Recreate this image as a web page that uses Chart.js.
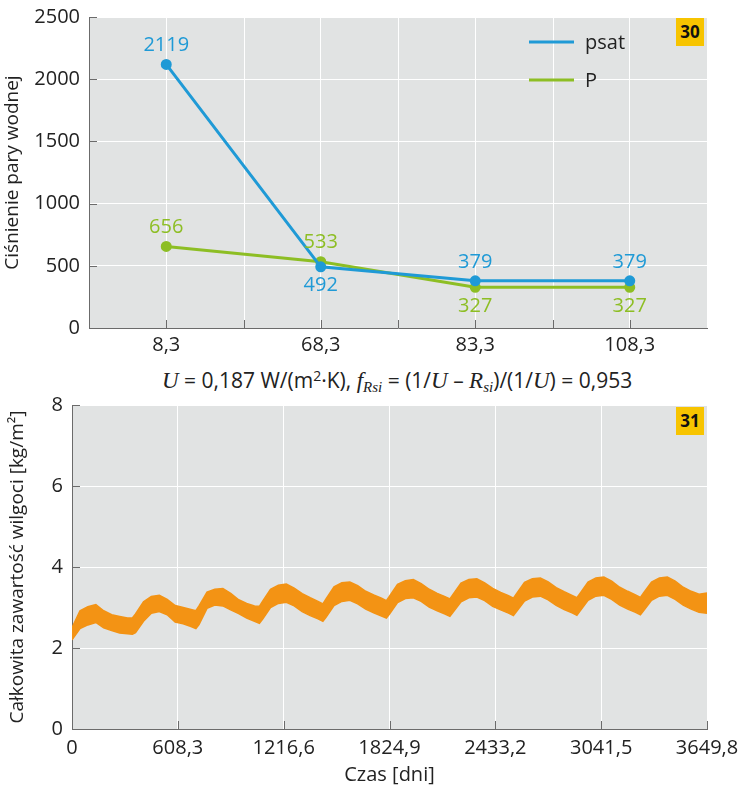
<!DOCTYPE html>
<html lang="pl">
<head>
  <meta charset="UTF-8" />
  <title>Ciśnienie pary wodnej i zawartość wilgoci</title>
  <script src="https://cdn.jsdelivr.net/npm/chart.js"></script>
  <style>
    body {
      margin: 0;
      background: #fff;
      font-family: "Open Sans", Arial, sans-serif;
      color: #222;
    }
    .page { position: relative; width: 748px; height: 800px; overflow: hidden; }
    .box { position: absolute; left: 0; width: 748px; }
    #topBox { top: 0; height: 365px; }
    #bottomBox { top: 395px; height: 405px; }
    .caption {
      position: absolute;
      top: 365px;
      left: 162px;
      white-space: nowrap;
      font-size: 21px;
      line-height: 30px;
    }
    .caption i { font-family: "Liberation Serif", serif; font-size: 23px; }
    .caption sub { font-size: 15px; vertical-align: -4px; line-height: 0; }
    .caption sup { font-size: 14px; vertical-align: 7px; line-height: 0; }
    .tag {
      position: absolute;
      left: 676px;
      width: 28px;
      height: 28px;
      background: #f7c400;
      color: #111;
      font-weight: bold;
      font-size: 17px;
      line-height: 28px;
      text-align: center;
    }
  </style>
</head>
<body>
<div class="page">
  <div class="box" id="topBox"><canvas id="pressureChart" width="748" height="365"></canvas></div>
  <div class="tag" style="top:18px;">30</div>
  <div class="caption">
    <i>U</i> = 0,187 W/(m<sup>2</sup>·K), <i>f<sub>Rsi</sub></i> = (1/<i>U</i> – <i>R<sub>si</sub></i>)/(1/<i>U</i>) = 0,953
  </div>
  <div class="box" id="bottomBox"><canvas id="moistureChart" width="748" height="405"></canvas></div>
  <div class="tag" style="top:407px;">31</div>
</div>

<script>
  // --- chart 30: water vapour pressure ---
  const positions = ['8,3', '68,3', '83,3', '108,3'];
  const psat = [2119, 492, 379, 379];
  const pressure = [656, 533, 327, 327];
  const pressureTicks = [0, 500, 1000, 1500, 2000, 2500];

  // --- chart 31: total moisture content (upper / lower edge of the band) ---
  const moistureDays = [
    0, 46, 91, 137, 182, 228, 274, 319, 347,
    365, 411, 456, 502, 547, 593, 639, 684, 712,
    730, 776, 821, 867, 912, 958, 1004, 1049, 1077,
    1095, 1141, 1186, 1232, 1277, 1323, 1369, 1414, 1442,
    1460, 1506, 1551, 1597, 1642, 1688, 1734, 1779, 1807,
    1825, 1871, 1916, 1962, 2007, 2053, 2099, 2144, 2172,
    2190, 2236, 2281, 2327, 2372, 2418, 2464, 2509, 2537,
    2555, 2601, 2646, 2692, 2737, 2783, 2829, 2874, 2902,
    2920, 2966, 3011, 3057, 3102, 3148, 3194, 3239, 3267,
    3285, 3331, 3376, 3422, 3467, 3513, 3559, 3604, 3649.8
  ];
  const moistureHigh = [
    2.50, 2.92, 3.02, 3.07, 2.92, 2.82, 2.78, 2.74, 2.74,
    2.84, 3.14, 3.27, 3.30, 3.20, 3.05, 3.00, 2.95, 2.92,
    3.04, 3.38, 3.45, 3.47, 3.35, 3.19, 3.10, 3.04, 3.03,
    3.15, 3.45, 3.55, 3.58, 3.48, 3.34, 3.24, 3.15, 3.09,
    3.21, 3.51, 3.61, 3.63, 3.54, 3.40, 3.31, 3.23, 3.17,
    3.28, 3.57, 3.66, 3.69, 3.59, 3.45, 3.35, 3.27, 3.21,
    3.32, 3.60, 3.69, 3.71, 3.61, 3.47, 3.37, 3.29, 3.23,
    3.34, 3.62, 3.71, 3.73, 3.63, 3.49, 3.39, 3.30, 3.24,
    3.35, 3.63, 3.73, 3.75, 3.65, 3.50, 3.40, 3.31, 3.25,
    3.36, 3.63, 3.73, 3.75, 3.65, 3.50, 3.40, 3.33, 3.36
  ];
  const moistureLow = [
    2.20, 2.48, 2.57, 2.63, 2.50, 2.43, 2.37, 2.35, 2.34,
    2.38, 2.66, 2.86, 2.90, 2.82, 2.64, 2.60, 2.53, 2.48,
    2.58, 2.98, 3.06, 3.04, 2.94, 2.85, 2.74, 2.66, 2.61,
    2.71, 3.00, 3.10, 3.13, 3.04, 2.90, 2.80, 2.72, 2.66,
    2.76, 3.05, 3.15, 3.18, 3.09, 2.96, 2.87, 2.79, 2.74,
    2.84, 3.12, 3.22, 3.24, 3.15, 3.01, 2.92, 2.84, 2.78,
    2.88, 3.14, 3.24, 3.26, 3.17, 3.03, 2.94, 2.86, 2.80,
    2.90, 3.16, 3.26, 3.28, 3.19, 3.05, 2.95, 2.87, 2.81,
    2.91, 3.18, 3.28, 3.30, 3.20, 3.06, 2.96, 2.88, 2.82,
    2.92, 3.18, 3.28, 3.30, 3.20, 3.06, 2.96, 2.88, 2.86
  ];
  const moistureTicks = [0, 608.3, 1216.6, 1824.9, 2433.2, 3041.5, 3649.8];
  const moistureYTicks = [0, 2, 4, 6, 8];

  const FONT = '"Open Sans", Arial, sans-serif';
  const PLOT_BG = '#e1e3e3';
  const AXIS = '#6b6b6b';
  Chart.defaults.font.family = FONT;
  Chart.defaults.color = '#222';

  // grey plot area
  const plotBg = {
    id: 'plotBg',
    beforeDraw(chart) {
      const { ctx, chartArea: a } = chart;
      ctx.save();
      ctx.fillStyle = PLOT_BG;
      ctx.fillRect(a.left, a.top, a.right - a.left, a.bottom - a.top);
      ctx.restore();
    }
  };

  function seg(ctx, x1, y1, x2, y2) {
    ctx.beginPath();
    ctx.moveTo(x1, y1);
    ctx.lineTo(x2, y2);
    ctx.stroke();
  }

  // fixed axis sizes, no extra padding from the tick labels
  function fixWidth(w) {
    return scale => {
      scale.width = w;
      scale.paddingTop = 0;
      scale.paddingBottom = 0;
    };
  }
  function fixHeight(h) {
    return scale => {
      scale.height = h;
      scale.paddingLeft = 0;
      scale.paddingRight = 0;
    };
  }

  // short tick marks pointing into the plot; optional extra white grid lines
  const innerTicks = {
    id: 'innerTicks',
    beforeDatasetsDraw(chart, args, opts) {
      const { ctx, chartArea: a } = chart;
      const xs = chart.scales.x;
      if (!opts.extraX) return;
      ctx.save();
      ctx.strokeStyle = '#fff';
      ctx.lineWidth = 1;
      opts.extraX.forEach(v => {
        const x = Math.round(xs.getPixelForValue(v)) + 0.5;
        seg(ctx, x, a.top, x, a.bottom);
      });
      ctx.restore();
    },
    afterDraw(chart, args, opts) {
      const { ctx, chartArea: a } = chart;
      const xs = chart.scales.x, ys = chart.scales.y;
      ctx.save();
      ctx.strokeStyle = AXIS;
      ctx.lineWidth = 1;
      ys.ticks.forEach((t, i) => {
        const y = Math.round(ys.getPixelForTick(i)) + 0.5;
        seg(ctx, a.left, y, a.left + 8, y);
      });
      const xVals = xs.ticks.map((t, i) => xs.getPixelForTick(i));
      (opts.extraX || []).forEach(v => xVals.push(xs.getPixelForValue(v)));
      xVals.forEach(px => {
        const x = Math.round(px) + 0.5;
        seg(ctx, x, a.bottom, x, a.bottom - 8);
      });
      ctx.restore();
    }
  };

  // value labels next to each point
  const pointLabels = {
    id: 'pointLabels',
    afterDatasetsDraw(chart, args, opts) {
      const ctx = chart.ctx;
      ctx.save();
      ctx.font = '20px ' + FONT;
      ctx.textAlign = 'center';
      ctx.textBaseline = 'middle';
      chart.data.datasets.forEach((ds, di) => {
        const meta = chart.getDatasetMeta(di);
        ctx.fillStyle = ds.borderColor;
        meta.data.forEach((pt, i) => {
          const dy = opts.sides[di][i] === 'below' ? 19 : -19;
          ctx.fillText(String(ds.data[i]), pt.x, pt.y + dy);
        });
      });
      ctx.restore();
    }
  };

  // legend drawn inside the plot, top right
  const insideLegend = {
    id: 'insideLegend',
    afterDraw(chart) {
      const { ctx, chartArea: a } = chart;
      ctx.save();
      ctx.font = '20px ' + FONT;
      ctx.textAlign = 'left';
      ctx.textBaseline = 'middle';
      chart.data.datasets.forEach((ds, i) => {
        const y = a.top + 25 + i * 38;
        ctx.strokeStyle = ds.borderColor;
        ctx.lineWidth = 3;
        seg(ctx, a.right - 178, y, a.right - 133, y);
        ctx.fillStyle = '#222';
        ctx.fillText(ds.label, a.right - 122, y + 1);
      });
      ctx.restore();
    }
  };

  new Chart(document.getElementById('pressureChart'), {
    type: 'line',
    data: {
      labels: positions,
      datasets: [
        {
          label: 'psat',
          data: psat,
          borderColor: '#1f9ad6',
          backgroundColor: '#1f9ad6',
          borderWidth: 3,
          pointRadius: 4,
          tension: 0
        },
        {
          label: 'P',
          data: pressure,
          borderColor: '#8dbe24',
          backgroundColor: '#8dbe24',
          borderWidth: 3,
          pointRadius: 4,
          tension: 0
        }
      ]
    },
    options: {
      responsive: false,
      animation: false,
      layout: { padding: { left: 0, right: 41, top: 17, bottom: 0 } },
      plugins: {
        legend: { display: false },
        tooltip: { enabled: false },
        pointLabels: {
          sides: [
            ['above', 'below', 'above', 'above'],
            ['above', 'above', 'below', 'below']
          ]
        },
        innerTicks: { extraX: [0.5, 1.5, 2.5] }
      },
      scales: {
        x: {
          offset: true,
          grid: { color: '#fff', offset: false, drawTicks: false },
          border: { color: AXIS, width: 1 },
          ticks: { font: { size: 20 }, padding: 5, color: '#222' },
          afterFit: fixHeight(37)
        },
        y: {
          min: 0,
          max: 2500,
          afterBuildTicks(scale) { scale.ticks = pressureTicks.map(v => ({ value: v })); },
          grid: { color: '#fff', drawTicks: false },
          border: { color: AXIS, width: 1 },
          ticks: { font: { size: 20 }, padding: 9, color: '#222', callback: v => String(v) },
          title: {
            display: true,
            text: 'Ciśnienie pary wodnej',
            font: { size: 19 },
            color: '#222',
            padding: { top: 1, bottom: 0 }
          },
          afterFit: fixWidth(89)
        }
      }
    },
    plugins: [plotBg, innerTicks, pointLabels, insideLegend]
  });

  new Chart(document.getElementById('moistureChart'), {
    type: 'line',
    data: {
      datasets: [
        {
          label: 'max',
          data: moistureHigh.map((v, i) => ({ x: moistureDays[i], y: v })),
          borderColor: '#f39314',
          backgroundColor: '#f39314',
          borderWidth: 1.5,
          pointRadius: 0,
          tension: 0,
          fill: '+1'
        },
        {
          label: 'min',
          data: moistureLow.map((v, i) => ({ x: moistureDays[i], y: v })),
          borderColor: '#f39314',
          borderWidth: 1.5,
          pointRadius: 0,
          tension: 0,
          fill: false
        }
      ]
    },
    options: {
      responsive: false,
      animation: false,
      layout: { padding: { left: 0, right: 41, top: 10, bottom: 0 } },
      plugins: {
        legend: { display: false },
        tooltip: { enabled: false }
      },
      scales: {
        x: {
          type: 'linear',
          min: 0,
          max: 3649.8,
          afterBuildTicks(scale) { scale.ticks = moistureTicks.map(v => ({ value: v })); },
          grid: { color: '#fff', drawTicks: false },
          border: { color: AXIS, width: 1 },
          ticks: {
            font: { size: 20 },
            padding: 7,
            color: '#222',
            autoSkip: false,
            maxRotation: 0,
            callback: v => String(v).replace('.', ',')
          },
          title: {
            display: true,
            text: 'Czas [dni]',
            font: { size: 20 },
            color: '#222',
            padding: { top: 0, bottom: 13 }
          },
          afterFit: fixHeight(71)
        },
        y: {
          min: 0,
          max: 8,
          afterBuildTicks(scale) { scale.ticks = moistureYTicks.map(v => ({ value: v })); },
          grid: { color: '#fff', drawTicks: false },
          border: { color: AXIS, width: 1 },
          ticks: { font: { size: 20 }, padding: 9, color: '#222' },
          title: {
            display: true,
            text: 'Całkowita zawartość wilgoci [kg/m²]',
            font: { size: 19 },
            color: '#222',
            padding: { top: 6, bottom: 0 }
          },
          afterFit: fixWidth(72)
        }
      }
    },
    plugins: [plotBg, innerTicks]
  });
</script>
</body>
</html>
